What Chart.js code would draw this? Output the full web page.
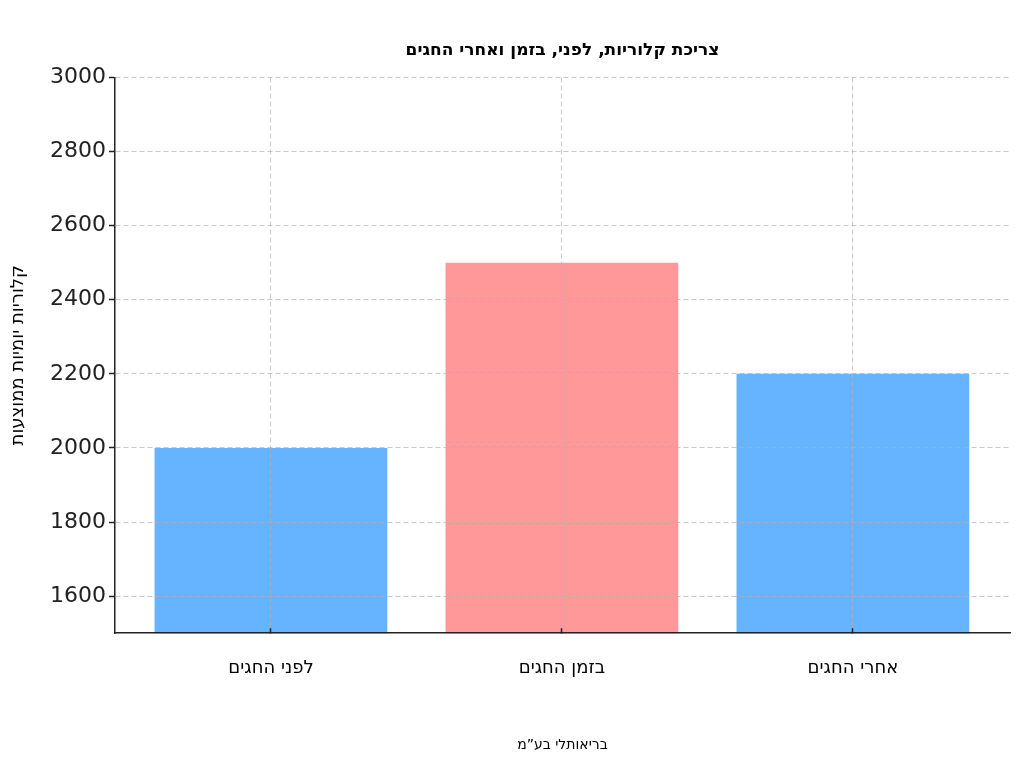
<!DOCTYPE html>
<html lang="he">
<head>
<meta charset="utf-8">
<script src="https://cdn.jsdelivr.net/npm/chart.js@4"></script>
<style>
  html, body { margin: 0; padding: 0; background: #ffffff; }
  #wrap { width: 1024px; height: 768px; }
</style>
</head>
<body>
<div id="wrap"><canvas id="kaloriot" width="1024" height="768"></canvas></div>
<script>
/* ============================================================
   נתונים
============================================================ */

const tekufot = ["לפני החגים", "בזמן החגים", "אחרי החגים"];

const kaloriot = [2000, 2500, 2200];

const tzvaim = ["#66b3ff", "#ff9999", "#66b3ff"];

const yTicks = [1600, 1800, 2000, 2200, 2400, 2600, 2800, 3000];

const koteret = "צריכת קלוריות, לפני, בזמן ואחרי החגים";
const koteretY = "קלוריות יומיות ממוצעות";
const hearaTachtona = "בריאותלי בע\u201dמ";

/* ============================================================
   גרף
============================================================ */

const gridColor = "rgba(176,176,176,0.7)";

new Chart(document.getElementById("kaloriot"), {
    type: "bar",
    data: {
        datasets: [{
            data: kaloriot.map((v, i) => ({ x: i, y: v })),
            backgroundColor: tzvaim,
            barPercentage: 0.8,
            categoryPercentage: 1,
            borderWidth: 0
        }]
    },
    options: {
        responsive: false,
        animation: false,
        layout: { padding: { left: 8, right: 14, top: 0, bottom: 0 } },
        plugins: {
            legend: { display: false },
            tooltip: { enabled: false },
            title: {
                display: true,
                fullSize: false,
                text: koteret,
                color: "#000",
                font: { family: "DejaVu Sans", size: 17, weight: "bold" },
                padding: { top: 40, bottom: 17 }
            },
            subtitle: {
                display: true,
                fullSize: false,
                position: "bottom",
                text: hearaTachtona,
                color: "#000",
                font: { family: "DejaVu Sans", size: 14 },
                padding: { top: 44, bottom: 14 }
            }
        },
        scales: {
            x: {
                type: "linear",
                offset: false,
                min: -0.536,
                max: 2.54,
                afterBuildTicks: (scale) => {
                    scale.ticks = tekufot.map((t, i) => ({ value: i }));
                },
                afterFit: (scale) => { scale.height = 60; },
                ticks: {
                    callback: (v) => tekufot[v],
                    color: "#000",
                    font: { family: "DejaVu Sans", size: 18 },
                    padding: 29
                },
                grid: {
                    z: 1,
                    offset: false,
                    color: gridColor,
                    tickColor: "#222",
                    tickLength: -5,
                    tickWidth: 1.5,
                    tickBorderDash: []
                },
                border: { display: true, color: "#222", width: 1.5, dash: [5, 3], z: 2 }
            },
            y: {
                min: 1500,
                max: 3000,
                afterBuildTicks: (scale) => {
                    scale.ticks = yTicks.map(v => ({ value: v }));
                },
                afterFit: (scale) => { scale.width = 107; },
                ticks: {
                    callback: (v) => String(v),
                    color: "#222",
                    font: { family: "DejaVu Sans", size: 22 },
                    padding: 3
                },
                grid: {
                    z: 1,
                    color: gridColor,
                    tickColor: "#222",
                    tickLength: 6,
                    tickWidth: 1.5,
                    tickBorderDash: []
                },
                border: { display: true, color: "#222", width: 1.5, dash: [5, 3], z: 2 },
                title: {
                    display: true,
                    text: koteretY,
                    color: "#000",
                    font: { family: "DejaVu Sans", size: 18 },
                    padding: 0
                }
            }
        }
    }
});
</script>
</body>
</html>
